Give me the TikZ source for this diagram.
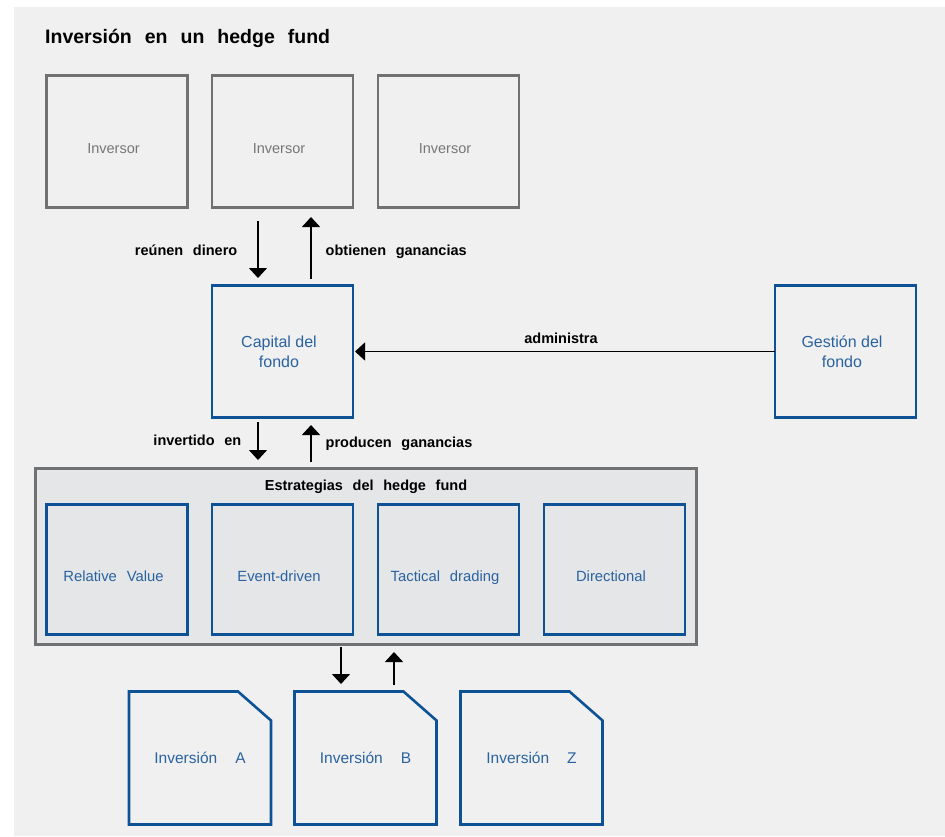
\documentclass[tikz,border=0pt]{standalone}
\usepackage{fontspec}
\setmainfont{Liberation Sans}
\newfontfamily\widefont{Liberation Sans}[WordSpace=2.4]
\usetikzlibrary{arrows.meta,calc}
\definecolor{bgc}{HTML}{F0F0F0}
\definecolor{stratfill}{HTML}{E5E6E8}
\definecolor{bluebd}{HTML}{0E5296}
\definecolor{bluetx}{HTML}{2A62A0}
\definecolor{graybd}{HTML}{6F7172}
\definecolor{graytx}{HTML}{767676}
\tikzset{
  invbox/.style={draw=graybd, line width=2.6pt, minimum width=141pt, minimum height=132pt, outer sep=0pt, inner sep=0pt},
  bluebox/.style={draw=bluebd, line width=2.6pt, minimum width=141pt, minimum height=132pt, outer sep=0pt, inner sep=0pt},
  stratbox/.style={bluebox, fill=stratfill, minimum height=130pt},
  outerbox/.style={draw=graybd, line width=2.6pt, fill=stratfill, minimum width=661pt, minimum height=176pt, outer sep=0pt, inner sep=0pt},
  docnode/.style={minimum width=142pt, minimum height=133pt, outer sep=0pt, inner sep=0pt, text=bluetx, font=\fontsize{15.5}{18}\selectfont},
  docshape/.style={draw=bluebd, line width=2.6pt, line join=miter},
  boxtxt/.style={inner sep=0pt, text height=10.5pt, text depth=3pt, xshift=-3.5pt, yshift=-8.4pt},
  graytxt/.style={boxtxt, text=graytx, font=\fontsize{14.5}{17}\selectfont},
  bluetxt/.style={boxtxt, text=bluetx, font=\widefont\fontsize{14.8}{17}\selectfont},
  twotxt/.style={inner sep=0pt, xshift=-3.5pt, text=bluetx, align=center, font=\fontsize{16}{20}\selectfont},
  lbl/.style={font=\widefont\bfseries\fontsize{14.5}{17}\selectfont, inner sep=0pt, text=black, text height=11pt, text depth=3.2pt},
  arr/.style={line width=1.4pt, -{Triangle[width=18pt,length=10pt]}},
}
\begin{document}
\begin{tikzpicture}[x=1pt,y=-1pt]
\useasboundingbox (0,0) rectangle (945,836);
\fill[bgc] (14,7) rectangle (945,836);

\node[font=\widefont\bfseries\fontsize{19.5}{22}\selectfont, anchor=base west, inner sep=0pt] (title) at (45,43) {Inversión en un hedge fund};

% investors
\node[invbox, label={[graytxt]center:Inversor}] (inv1) at (117,141.5) {};
\node[invbox, label={[graytxt]center:Inversor}] (inv2) at (282.5,141.5) {};
\node[invbox, label={[graytxt]center:Inversor}] (inv3) at (448.5,141.5) {};

% capital & gestion
\node[bluebox, label={[twotxt]center:Capital del\\fondo}] (cap) at (282.5,351.5) {};
\node[bluebox, label={[twotxt]center:Gestión del\\fondo}] (ges) at (845.5,351.5) {};

% strategies
\node[outerbox] (strat) at (366,556.5) {};
\node[lbl, anchor=base] (strattitle) at ([yshift=-21.5pt]strat.north) {Estrategias del hedge fund};
\node[stratbox, label={[bluetxt]center:Relative Value}] (s1) at (117,569.5) {};
\node[stratbox, label={[bluetxt]center:Event-driven}] (s2) at (282.5,569.5) {};
\node[stratbox, label={[bluetxt]center:Tactical drading}] (s3) at (448.5,569.5) {};
\node[stratbox, label={[bluetxt]center:Directional}] (s4) at (614.5,569.5) {};

% investments
\node[docnode] (dA) at (200,758) {Inversión\hspace{18pt}A};
\node[docnode] (dB) at (365.5,758) {Inversión\hspace{18pt}B};
\node[docnode] (dZ) at (531.5,758) {Inversión\hspace{18pt}Z};
\foreach \d in {dA,dB,dZ}{
  \draw[docshape] (\d.north west) -- ([xshift=-33pt]\d.north east) -- ([yshift=-29pt]\d.north east) -- (\d.south east) -- (\d.south west) -- cycle;
}

% arrows investors <-> capital
\draw[arr] ($(inv2.south)+(-24.5,13.5)$) -- node[lbl, anchor=east, xshift=-20pt, yshift=-2pt] {reúnen dinero} ($(cap.north)+(-24.5,-7.5)$);
\draw[arr] ($(cap.north)+(28.5,-6.5)$) -- node[lbl, anchor=west, xshift=14pt, yshift=-3.5pt] {obtienen ganancias} ($(inv2.south)+(28.5,9.5)$);

% gestion -> capital
\draw[arr] (ges.west) -- node[lbl, above, yshift=4pt, xshift=-4pt] {administra} ($(cap.east)+(2,0)$);

% capital <-> strategies
\draw[arr] ($(cap.south)+(-24.5,4.5)$) -- node[lbl, anchor=east, xshift=-16pt, yshift=-0.5pt] {invertido en} ($(strat.north -| cap.south)+(-24.5,-8.5)$);
\draw[arr] ($(strat.north -| cap.south)+(28.5,-6.5)$) -- node[lbl, anchor=west, xshift=14pt, yshift=-0.5pt] {producen ganancias} ($(cap.south)+(28.5,7.5)$);

% strategies <-> investments
\draw[arr] ($(strat.south -| dB.north)+(-24.5,2.5)$) -- ($(dB.north)+(-24.5,-7.5)$);
\draw[arr] ($(dB.north)+(28.5,-6.5)$) -- ($(strat.south -| dB.north)+(28.5,7.5)$);
\end{tikzpicture}
\end{document}
